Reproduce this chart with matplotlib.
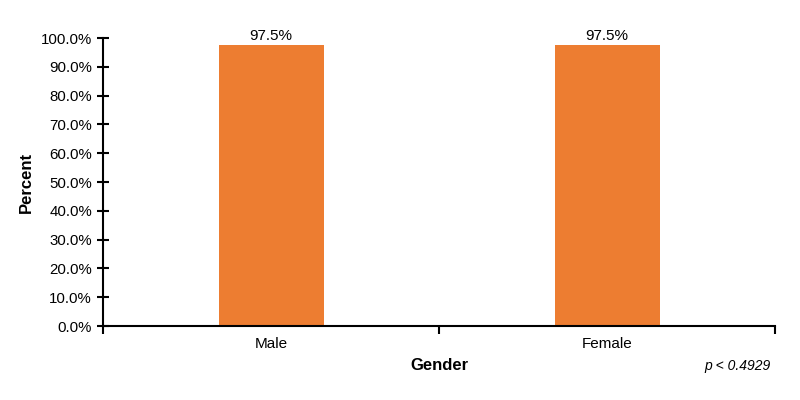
import matplotlib
matplotlib.use("Agg")
import matplotlib.pyplot as plt
from matplotlib.ticker import PercentFormatter, FixedLocator

categories = ["Male", "Female"]
values = [97.5, 97.5]
yticks = [0, 10, 20, 30, 40, 50, 60, 70, 80, 90, 100]

plt.rcParams['font.family'] = ['Liberation Sans', 'DejaVu Sans']

fig = plt.figure(figsize=(8, 4), dpi=100)
ax = fig.add_axes([0.129, 0.185, 0.840, 0.72])

pos = [0.5, 1.5]
bars = ax.bar(pos, values, width=0.313, color="#ED7D31")
for p, v in zip(pos, values):
    ax.text(p, v + 0.6, f"{v:.1f}%", ha="center", va="bottom", fontsize=11)

ax.set_xlim(0, 2)
ax.set_ylim(0, 100)
ax.set_yticks(yticks)
ax.yaxis.set_major_formatter(PercentFormatter(decimals=1))
ax.set_xticks(pos)
ax.set_xticklabels(categories)
ax.xaxis.set_minor_locator(FixedLocator([0, 1, 2]))
ax.tick_params(axis="x", which="major", length=0, labelsize=11, pad=8)
ax.tick_params(axis="x", which="minor", length=6, width=1.5, direction="out")
ax.tick_params(axis="y", length=8, width=1.5, direction="inout", labelsize=10.8, pad=4)

for s in ["top", "right"]:
    ax.spines[s].set_visible(False)
for s in ["left", "bottom"]:
    ax.spines[s].set_linewidth(1.5)

ax.set_ylabel("Percent", fontsize=12, fontweight="bold", labelpad=5)
ax.set_xlabel("Gender", fontsize=12, fontweight="bold", labelpad=5)
fig.text(0.963, 0.085, "p < 0.4929", ha="right", va="center", fontsize=10, style="italic")

fig.savefig("out.png", dpi=100)
